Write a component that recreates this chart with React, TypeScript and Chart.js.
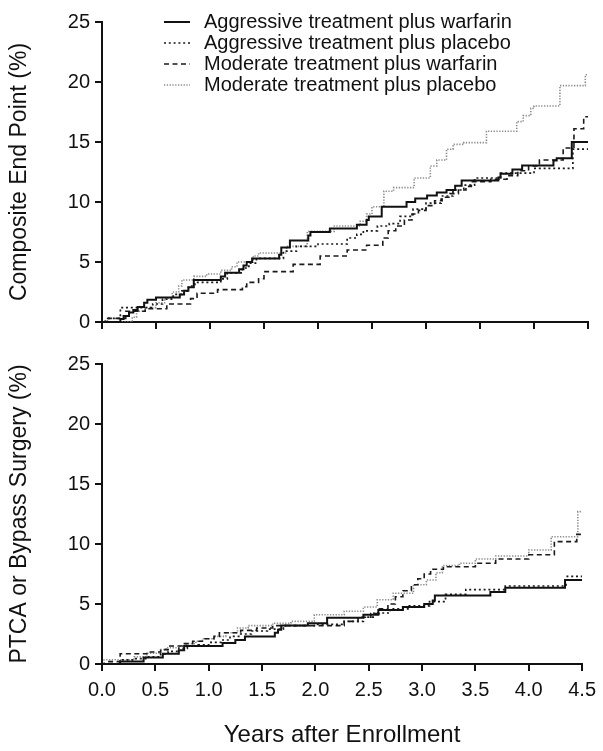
import React, { useEffect, useRef } from "react";
import { Chart, registerables } from "chart.js";

Chart.register(...registerables);

type Pt = [number, number];

const FONT = "'Liberation Sans', Arial, Helvetica, sans-serif";

const seriesLabels = [
  "Aggressive treatment plus warfarin",
  "Aggressive treatment plus placebo",
  "Moderate treatment plus warfarin",
  "Moderate treatment plus placebo",
];

const xTickValues = [0, 0.5, 1, 1.5, 2, 2.5, 3, 3.5, 4, 4.5];
const yTickValues = [0, 5, 10, 15, 20, 25];

// ---------- Composite end point (%) ----------
const compositeAggWarfarin: Pt[] = [
  [0, 0], [0.17, 0.25], [0.2, 0.5], [0.25, 0.8], [0.29, 1.0], [0.33, 1.25], [0.39, 1.6],
  [0.42, 1.85], [0.5, 2.05], [0.72, 2.3], [0.76, 2.6], [0.8, 2.9], [0.85, 3.5], [1.1, 3.8],
  [1.14, 4.1], [1.27, 4.4], [1.31, 4.7], [1.34, 5.0], [1.39, 5.3], [1.64, 5.6], [1.66, 6.2],
  [1.74, 6.8], [1.91, 7.2], [1.93, 7.5], [2.11, 7.8], [2.36, 8.1], [2.45, 8.5], [2.47, 8.8],
  [2.59, 9.6], [2.82, 10.0], [2.9, 10.3], [3.01, 10.55], [3.1, 10.8], [3.19, 11.0],
  [3.27, 11.35], [3.33, 11.8], [3.67, 12.05], [3.69, 12.35], [3.8, 12.7], [3.89, 13.05],
  [4.18, 13.45], [4.21, 13.65], [4.35, 15.0], [4.5, 15.0],
];
const compositeAggPlacebo: Pt[] = [
  [0, 0], [0.05, 0.3], [0.17, 1.2], [0.47, 1.5], [0.56, 1.9], [0.66, 2.3], [0.74, 2.6],
  [0.8, 3.0], [0.86, 3.3], [1.1, 3.6], [1.16, 4.1], [1.3, 4.5], [1.36, 4.9], [1.43, 5.3],
  [1.68, 5.9], [1.8, 6.3], [2.0, 6.5], [2.27, 7.0], [2.36, 7.3], [2.42, 7.6], [2.55, 8.0],
  [2.66, 8.2], [2.76, 8.8], [2.88, 9.4], [3.0, 9.9], [3.14, 10.5], [3.25, 11.0], [3.35, 11.4],
  [3.45, 12.0], [3.69, 12.4], [4.0, 12.8], [4.36, 14.4], [4.5, 14.4],
];
const compositeModWarfarin: Pt[] = [
  [0, 0], [0.03, 0.3], [0.22, 0.9], [0.4, 1.1], [0.6, 1.5], [0.82, 1.95], [0.88, 2.4],
  [1.07, 2.7], [1.3, 2.95], [1.34, 3.3], [1.45, 3.6], [1.5, 4.2], [1.77, 4.8], [2.02, 5.5],
  [2.27, 6.0], [2.45, 6.4], [2.6, 7.0], [2.65, 7.6], [2.72, 8.0], [2.8, 8.5], [2.87, 9.0],
  [2.93, 9.3], [3.0, 9.7], [3.08, 10.1], [3.15, 10.4], [3.22, 10.7], [3.3, 11.0], [3.37, 11.3],
  [3.42, 11.7], [3.6, 11.9], [3.75, 12.2], [3.85, 12.6], [3.95, 13.0], [4.05, 13.5],
  [4.27, 14.5], [4.37, 16.1], [4.46, 17.1], [4.5, 17.1],
];
const compositeModPlacebo: Pt[] = [
  [0, 0], [0.28, 0.4], [0.32, 0.9], [0.4, 1.2], [0.5, 1.6], [0.58, 2.0], [0.65, 2.5],
  [0.71, 3.0], [0.74, 3.5], [0.85, 3.8], [0.97, 4.0], [1.1, 4.3], [1.2, 4.6], [1.25, 5.0],
  [1.4, 5.5], [1.45, 5.75], [1.71, 6.3], [1.9, 7.55], [2.15, 8.0], [2.39, 8.4], [2.45, 9.0],
  [2.5, 9.6], [2.61, 10.9], [2.7, 11.2], [2.89, 12.0], [3.04, 13.0], [3.1, 13.5], [3.19, 14.4],
  [3.25, 14.8], [3.35, 14.95], [3.56, 15.9], [3.84, 16.7], [3.9, 17.2], [3.97, 17.8],
  [4.0, 18.0], [4.24, 19.7], [4.475, 20.6], [4.5, 20.6],
];

// ---------- PTCA or bypass surgery (%) ----------
const ptcaAggWarfarin: Pt[] = [
  [0, 0], [0.17, 0.2], [0.39, 0.55], [0.57, 0.85], [0.72, 1.15], [0.77, 1.5], [1.13, 1.75],
  [1.25, 2.0], [1.34, 2.3], [1.62, 2.6], [1.65, 2.85], [1.68, 3.2], [1.93, 3.4], [2.11, 3.85],
  [2.45, 4.1], [2.59, 4.5], [2.82, 4.75], [3.02, 5.0], [3.1, 5.3], [3.12, 5.7], [3.64, 6.0],
  [3.78, 6.35], [4.34, 7.0], [4.5, 7.0],
];
const ptcaAggPlacebo: Pt[] = [
  [0, 0], [0.17, 0.35], [0.3, 0.45], [0.42, 0.6], [0.55, 0.85], [0.62, 1.05], [0.72, 1.3],
  [0.8, 1.5], [0.9, 1.6], [1.0, 1.8], [1.12, 2.0], [1.2, 2.3], [1.3, 2.5], [1.4, 2.75],
  [1.55, 2.9], [1.7, 3.2], [2.0, 3.3], [2.27, 3.55], [2.45, 3.9], [2.55, 4.25], [2.7, 4.6],
  [2.88, 4.85], [3.07, 5.2], [3.22, 5.8], [3.41, 6.2], [3.78, 6.5], [4.35, 7.3], [4.5, 7.3],
];
const ptcaModWarfarin: Pt[] = [
  [0, 0], [0.05, 0.2], [0.17, 0.85], [0.42, 1.0], [0.55, 1.2], [0.62, 1.5], [0.75, 1.7],
  [0.85, 1.9], [0.95, 2.1], [1.05, 2.3], [1.1, 2.6], [1.3, 2.8], [1.45, 3.0], [1.6, 3.2],
  [2.27, 3.55], [2.4, 3.9], [2.52, 4.2], [2.6, 4.6], [2.68, 5.0], [2.75, 5.6], [2.82, 6.1],
  [2.9, 6.6], [2.96, 7.1], [3.02, 7.5], [3.08, 7.9], [3.2, 8.1], [3.5, 8.4], [3.69, 8.75],
  [4.0, 9.1], [4.24, 10.2], [4.45, 10.8], [4.5, 10.8],
];
const ptcaModPlacebo: Pt[] = [
  [0, 0], [0.02, 0.35], [0.3, 0.6], [0.42, 0.9], [0.55, 1.2], [0.6, 1.35], [0.72, 1.5],
  [0.79, 1.7], [0.88, 1.9], [0.94, 2.1], [1.05, 2.3], [1.16, 2.6], [1.27, 3.0], [1.37, 3.2],
  [1.6, 3.4], [1.77, 3.55], [1.99, 4.1], [2.27, 4.4], [2.45, 4.75], [2.58, 5.35], [2.73, 5.9],
  [2.92, 6.6], [3.04, 7.0], [3.13, 7.6], [3.19, 8.2], [3.35, 8.4], [3.5, 8.75], [3.69, 9.0],
  [4.0, 9.5], [4.21, 10.6], [4.46, 12.7], [4.5, 12.7],
];

const lineStyles = [
  { color: "#111111", width: 2, dash: [] as number[] },
  { color: "#1a1a1a", width: 1.7, dash: [2, 2.8] },
  { color: "#1a1a1a", width: 1.6, dash: [5, 3.5] },
  { color: "#8c8c8c", width: 1.6, dash: [1.3, 1.5] },
];

const legendPlugin = {
  id: "stackedLegend",
  afterDraw(chart: any) {
    const opts = chart.options.plugins.stackedLegend;
    if (!opts || !opts.display) return;
    const ctx = chart.ctx as CanvasRenderingContext2D;
    chart.data.datasets.forEach((ds: any, i: number) => {
      const y = 22 + i * 21;
      ctx.save();
      ctx.strokeStyle = ds.borderColor;
      ctx.lineWidth = ds.borderWidth;
      ctx.setLineDash(ds.borderDash || []);
      ctx.beginPath();
      ctx.moveTo(164, y);
      ctx.lineTo(190, y);
      ctx.stroke();
      ctx.setLineDash([]);
      ctx.fillStyle = "#111111";
      ctx.font = `20px ${FONT}`;
      ctx.textBaseline = "alphabetic";
      ctx.textAlign = "left";
      ctx.fillText(ds.label, 204, y + 5.5);
      ctx.restore();
    });
  },
};

function buildConfig(
  series: Pt[][],
  yTitle: string,
  bottomPanel: boolean,
  padTop: number,
  xHeight: number
): any {
  const axisGrid = {
    display: true,
    drawOnChartArea: false,
    drawTicks: true,
    tickLength: 7,
    tickWidth: 2,
    tickColor: "#111111",
    color: "#111111",
    lineWidth: 2,
  };
  return {
    type: "line",
    data: {
      datasets: series.map((pts, i) => ({
        label: seriesLabels[i],
        data: pts.map(([x, y]) => ({ x, y })),
        stepped: true,
        borderColor: lineStyles[i].color,
        borderWidth: lineStyles[i].width,
        borderDash: lineStyles[i].dash,
        pointRadius: 0,
        fill: false,
        tension: 0,
      })),
    },
    options: {
      responsive: false,
      animation: false,
      events: [],
      layout: { padding: { top: padTop, right: 15, bottom: 0, left: 0 } },
      plugins: {
        legend: { display: false },
        tooltip: { enabled: false },
        stackedLegend: { display: !bottomPanel },
      },
      scales: {
        x: {
          type: "linear",
          min: 0,
          max: 4.5,
          afterBuildTicks: (s: any) => {
            s.ticks = xTickValues.map((v) => ({ value: v }));
          },
          ticks: {
            display: bottomPanel,
            autoSkip: false,
            maxRotation: 0,
            padding: 7,
            color: "#111111",
            font: { family: FONT, size: 20 },
            callback: (v: any) => Number(v).toFixed(1),
          },
          grid: axisGrid,
          border: { display: true, color: "#111111", width: 2 },
          title: {
            display: bottomPanel,
            text: "Years after Enrollment",
            color: "#111111",
            font: { family: FONT, size: 24, lineHeight: 1 },
            padding: { top: 0, bottom: 4 },
          },
          afterFit: (s: any) => {
            s.height = xHeight;
          },
        },
        y: {
          type: "linear",
          min: 0,
          max: 25,
          afterBuildTicks: (s: any) => {
            s.ticks = yTickValues.map((v) => ({ value: v }));
          },
          ticks: {
            padding: 5,
            color: "#111111",
            font: { family: FONT, size: 20 },
            callback: (v: any) => String(v),
          },
          grid: axisGrid,
          border: { display: true, color: "#111111", width: 2 },
          title: {
            display: true,
            text: yTitle,
            color: "#111111",
            font: { family: FONT, size: 23, lineHeight: 1 },
            padding: { top: 8.5, bottom: 0 },
          },
          afterFit: (s: any) => {
            s.width = 102;
          },
        },
      },
    },
    plugins: [legendPlugin],
  };
}

export default function App() {
  const topRef = useRef<HTMLCanvasElement | null>(null);
  const bottomRef = useRef<HTMLCanvasElement | null>(null);

  useEffect(() => {
    Chart.defaults.font.family = FONT;
    const top = new Chart(
      topRef.current as HTMLCanvasElement,
      buildConfig(
        [compositeAggWarfarin, compositeAggPlacebo, compositeModWarfarin, compositeModPlacebo],
        "Composite End Point (%)",
        false,
        22,
        21
      )
    );
    const bottom = new Chart(
      bottomRef.current as HTMLCanvasElement,
      buildConfig(
        [ptcaAggWarfarin, ptcaAggPlacebo, ptcaModWarfarin, ptcaModPlacebo],
        "PTCA or Bypass Surgery (%)",
        true,
        21,
        87
      )
    );
    return () => {
      top.destroy();
      bottom.destroy();
    };
  }, []);

  return (
    <div
      style={{
        position: "absolute",
        left: 0,
        top: 0,
        width: 603,
        height: 751,
        background: "#ffffff",
      }}
    >
      <canvas
        ref={topRef}
        width={603}
        height={343}
        style={{ position: "absolute", left: 0, top: 0, width: 603, height: 343 }}
      />
      <canvas
        ref={bottomRef}
        width={603}
        height={408}
        style={{ position: "absolute", left: 0, top: 343, width: 603, height: 408 }}
      />
    </div>
  );
}
